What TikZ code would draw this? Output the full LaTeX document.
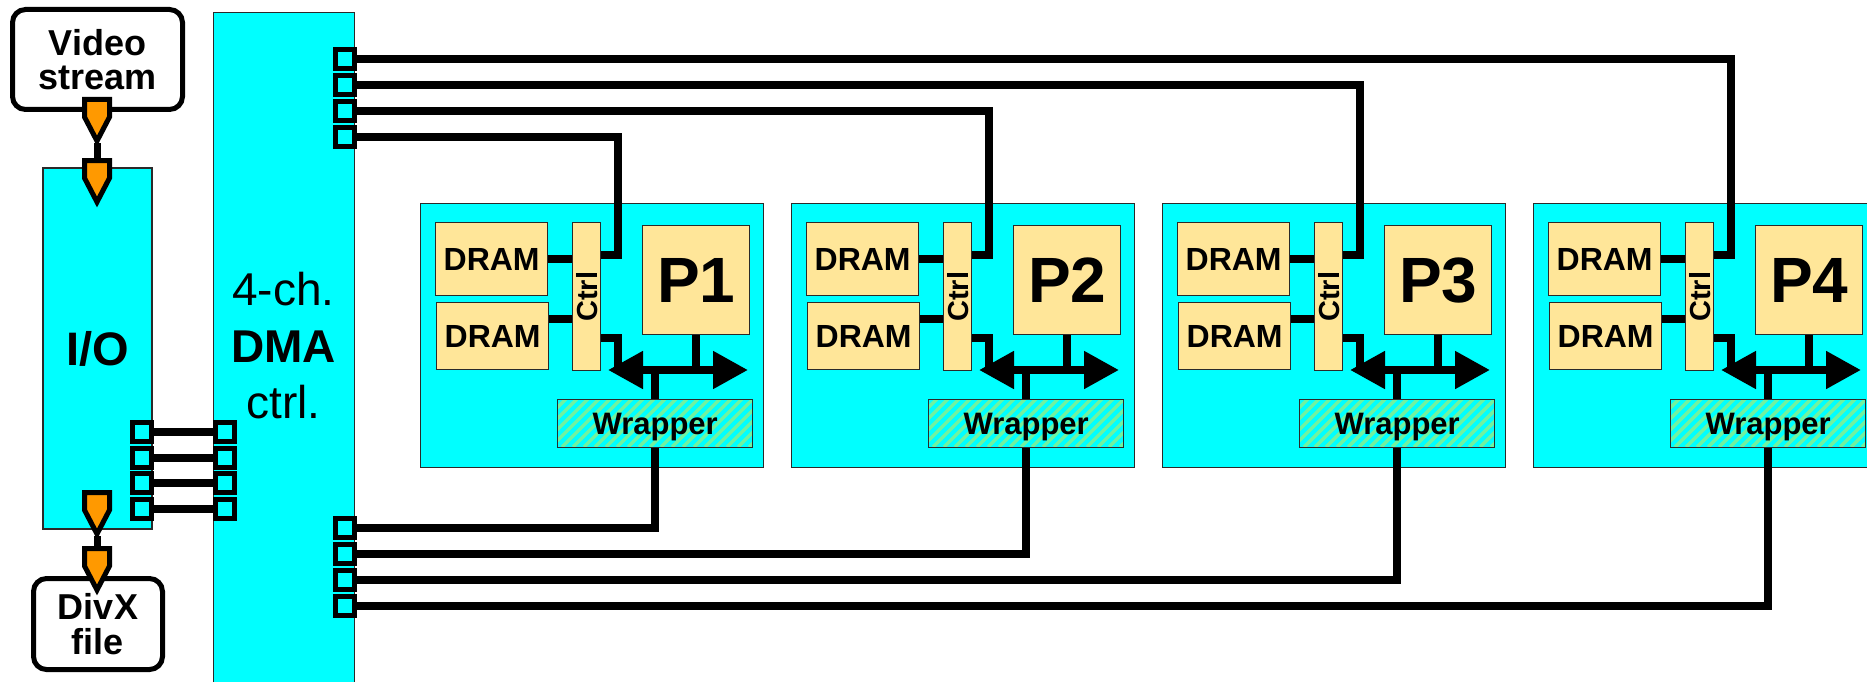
\documentclass[tikz,border=0pt]{standalone}
\usepackage{fontspec}
\setmainfont{Liberation Sans}
\usetikzlibrary{arrows.meta}
\definecolor{cyfill}{HTML}{00FFFF}
\definecolor{tanfill}{HTML}{FFE699}
\definecolor{pinorange}{HTML}{FF9900}
\definecolor{stripegreen}{HTML}{70F2A0}
\definecolor{edgegray}{HTML}{2A2A2A}
\tikzset{
  cyanbox/.style={draw=edgegray, line width=1.3, fill=cyfill, inner sep=0pt},
  tanbox/.style={draw=edgegray, line width=1.3, fill=tanfill, inner sep=0pt, anchor=north west},
  portbox/.style={draw=black, line width=5, fill=cyfill, minimum size=19, inner sep=0pt},
  conn/.style={draw=black, line width=8},
  termbox/.style={draw=black, line width=5, rounded corners=13, fill=white, align=center, inner sep=0pt, font=\fontsize{36}{34}\selectfont\bfseries},
  pinshape/.style={draw=black, fill=pinorange, line width=5, line join=miter},
  busarrow/.style={draw=black, line width=8, {Triangle[length=35pt,width=36pt]}-{Triangle[length=35pt,width=36pt]}},
  connpin/.pic={
    \path[pinshape] (-12.5,2.5) -- (12.5,2.5) -- (12.5,20) -- (0,44) -- (-12.5,20) -- cycle;
    \coordinate (-tip) at (0,46);
    \coordinate (-top) at (0,2.5);
  },
}
\begin{document}
\begin{tikzpicture}[x=1pt,y=-1pt]
\clip (0,0) rectangle (1867,682);
\fill[white] (0,0) rectangle (1867,682);

% terminals and I/O
\node[termbox, minimum width=170, minimum height=100] (video) at (97.5,59.5) {Video\\stream};
\node[cyanbox, minimum width=109, minimum height=361, font=\fontsize{47}{47}\selectfont\bfseries, text depth=0pt] (io) at (97.5,348.5) {I/O};

% DMA controller
\node[cyanbox, anchor=north west, minimum width=141, minimum height=700] (dma) at (213,12) {};
\node[font=\fontsize{46}{46}\selectfont, anchor=base] (dmaA) at (283.5,305) {4-ch.};
\node[font=\fontsize{46}{46}\selectfont\bfseries, anchor=base] (dmaB) at (283.5,362) {DMA};
\node[font=\fontsize{46}{46}\selectfont, anchor=base] (dmaC) at (283.5,418) {ctrl.};

% I/O <-> DMA ports
\foreach \i/\y in {1/432,2/457.5,3/483,4/508.5}{
  \node[portbox] (iop\i) at (141.5,\y) {};
  \node[portbox] (dmal\i) at (225,\y) {};
  \draw[conn] (iop\i) -- (dmal\i);
}
% DMA right ports
\foreach \i/\y in {1/59,2/85,3/111,4/137}{
  \node[portbox] (dmat\i) at (345,\y) {};
}
\foreach \i/\y in {1/528,2/554,3/580,4/606}{
  \node[portbox] (dmab\i) at (345,\y) {};
}

% processor tiles
\foreach \k in {1,2,3,4}{
  \pgfmathsetmacro{\L}{420+(\k-1)*371}
  \pgfmathtruncatemacro{\tp}{5-\k}
  \node[cyanbox, anchor=north west, minimum width=343, minimum height=264] (B\k) at (\L,203) {};
  \node[tanbox, minimum width=112, minimum height=73, font=\fontsize{32}{32}\selectfont\bfseries] (D\k-a) at (\L+15,222) {DRAM};
  \node[tanbox, minimum width=112, minimum height=67, font=\fontsize{32}{32}\selectfont\bfseries] (D\k-b) at (\L+16,302) {DRAM};
  \node[tanbox, minimum width=28, minimum height=148] (C\k) at (\L+152,222) {};
  \node[rotate=90, inner sep=0pt, font=\fontsize{29}{29}\selectfont\bfseries] (C\k-t) at (C\k.center) {Ctrl};
  \node[tanbox, minimum width=107, minimum height=109, font=\fontsize{64}{64}\selectfont\bfseries] (P\k) at (\L+222,225) {P\k};
  \begin{scope}
    \clip (\L+137,399) rectangle (\L+332,447);
    \foreach \s in {-50,-39,...,200}{
      \draw[stripegreen, line width=3.5] (\L+137+\s,447) -- ++(48,-48);
    }
  \end{scope}
  \node[draw=edgegray, line width=1.3, inner sep=0pt, anchor=north west, minimum width=195, minimum height=48, font=\fontsize{31}{31}\selectfont\bfseries, text depth=0pt] (W\k) at (\L+137,399) {Wrapper};
  \draw[conn] (D\k-a.east) -- (D\k-a.east -| C\k.west);
  \draw[conn] (D\k-b.east |- 0,319) -- (C\k.west |- 0,319);
  \coordinate (T\k) at (\L+198,255);
  \draw[conn] (dmat\tp.east) -| (T\k) -- (T\k -| C\k.east);
  \coordinate (BL\k) at (\L+188,370);
  \coordinate (BR\k) at (\L+328,370);
  \coordinate (CO\k) at (\L+198,370);
  \draw[conn] (C\k.east |- 0,338) -| (CO\k);
  \draw[busarrow] (BL\k) -- (BR\k);
  \draw[conn] (P\k.south) -- (P\k.south |- BL\k);
  \draw[conn] (W\k.north) -- (W\k.north |- BL\k);
  \draw[conn] (dmab\k.east) -| (W\k.south);
}

% DivX file
\node[termbox, minimum width=129, minimum height=91, font=\fontsize{36}{35}\selectfont\bfseries] (divx) at (98,624) {DivX\\file};

% pins
\pic (pinA) at (97,97) {connpin};
\pic (pinB) at (97,158) {connpin};
\pic (pinC) at (97,490) {connpin};
\pic (pinD) at (97,546) {connpin};
\draw[line width=7] (pinA-tip) -- (pinB-top);
\draw[line width=7] (pinC-tip) -- (pinD-top);
\end{tikzpicture}
\end{document}
